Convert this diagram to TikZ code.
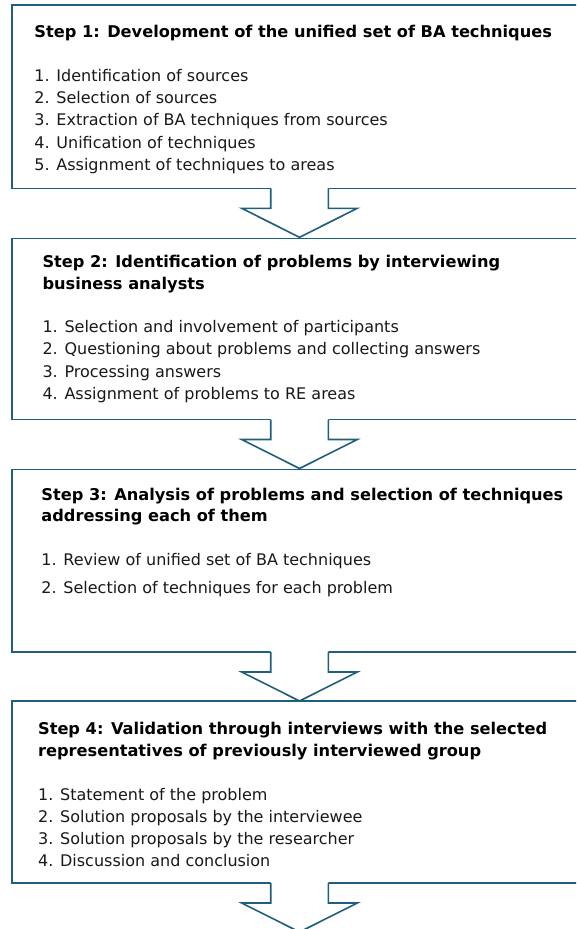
\documentclass[tikz,border=0pt]{standalone}
\usepackage{fontspec}
\setmainfont{DejaVu Sans}
\definecolor{lineblue}{RGB}{31,95,125}
\definecolor{itemgray}{RGB}{25,25,25}
\tikzset{
  stepbox/.style={draw=lineblue, line width=1.6pt, rectangle, inner sep=0pt, outer sep=0pt,
                  minimum width=575pt, anchor=north west},
  titletext/.style={inner sep=0pt, anchor=base west, font=\fontsize{16.2}{19}\selectfont\bfseries, text=black},
  itemtext/.style={inner sep=0pt, anchor=base west, font=\fontsize{16}{19}\selectfont, text=itemgray},
  blockarrow/.pic={
    \fill[white] (-28.8,-1) -- (-28.8,20) -- (-57.8,20) -- (0,49) -- (57.8,20) -- (28.8,20) -- (28.8,-1) -- cycle;
    \draw[lineblue, line width=1.6pt, line join=miter] (-28.8,0) -- (-28.8,20) -- (-57.8,20) -- (0,49) -- (57.8,20) -- (28.8,20) -- (28.8,0);
  }
}
\begin{document}
\begin{tikzpicture}[x=1pt, y=-1pt]
\useasboundingbox (0,0) rectangle (576,929);
\clip (0,0) rectangle (576,929);
\fill[white] (0,0) rectangle (576,929);

% boxes
\node[stepbox, minimum height=183.3pt] (b1) at (12,5) {};
\node[stepbox, minimum height=181.2pt] (b2) at (12,238.3) {};
\node[stepbox, minimum height=182.7pt] (b3) at (12,469.3) {};
\node[stepbox, minimum height=182pt] (b4) at (12,701) {};

% arrows
\pic at (b1.south) {blockarrow};
\pic at (b2.south) {blockarrow};
\pic at (b3.south) {blockarrow};
\pic at (b4.south) {blockarrow};

% Step 1
\node[titletext] (t1a) at (34.2,37.3) {Step 1: Development of the unified set of BA techniques};
\foreach \txt [count=\k] in {1. Identification of sources,2. Selection of sources,3. Extraction of BA techniques from sources,4. Unification of techniques,5. Assignment of techniques to areas}
  \node[itemtext] (s1i\k) at (34.2,{81.5+22.2*(\k-1)}) {\txt};

% Step 2
\node[titletext] (t2a) at (42.3,267.3) {Step 2: Identification of problems by interviewing};
\node[titletext] (t2b) at (42.3,289.3) {business analysts};
\foreach \txt [count=\k] in {1. Selection and involvement of participants,2. Questioning about problems and collecting answers,3. Processing answers,4. Assignment of problems to RE areas}
  \node[itemtext] (s2i\k) at (42.3,{332.7+22.2*(\k-1)}) {\txt};

% Step 3
\node[titletext] (t3a) at (41.2,500) {Step 3: Analysis of problems and selection of techniques};
\node[titletext] (t3b) at (41.2,521.8) {addressing each of them};
\node[itemtext] (s3i1) at (41.2,565.7) {1. Review of unified set of BA techniques};
\node[itemtext] (s3i2) at (41.2,593.3) {2. Selection of techniques for each problem};

% Step 4
\node[titletext] (t4a) at (37.9,734.3) {Step 4: Validation through interviews with the selected};
\node[titletext] (t4b) at (37.9,756) {representatives of previously interviewed group};
\foreach \txt [count=\k] in {1. Statement of the problem,2. Solution proposals by the interviewee,3. Solution proposals by the researcher,4. Discussion and conclusion}
  \node[itemtext] (s4i\k) at (37.9,{800.7+21.8*(\k-1)}) {\txt};
\end{tikzpicture}
\end{document}
